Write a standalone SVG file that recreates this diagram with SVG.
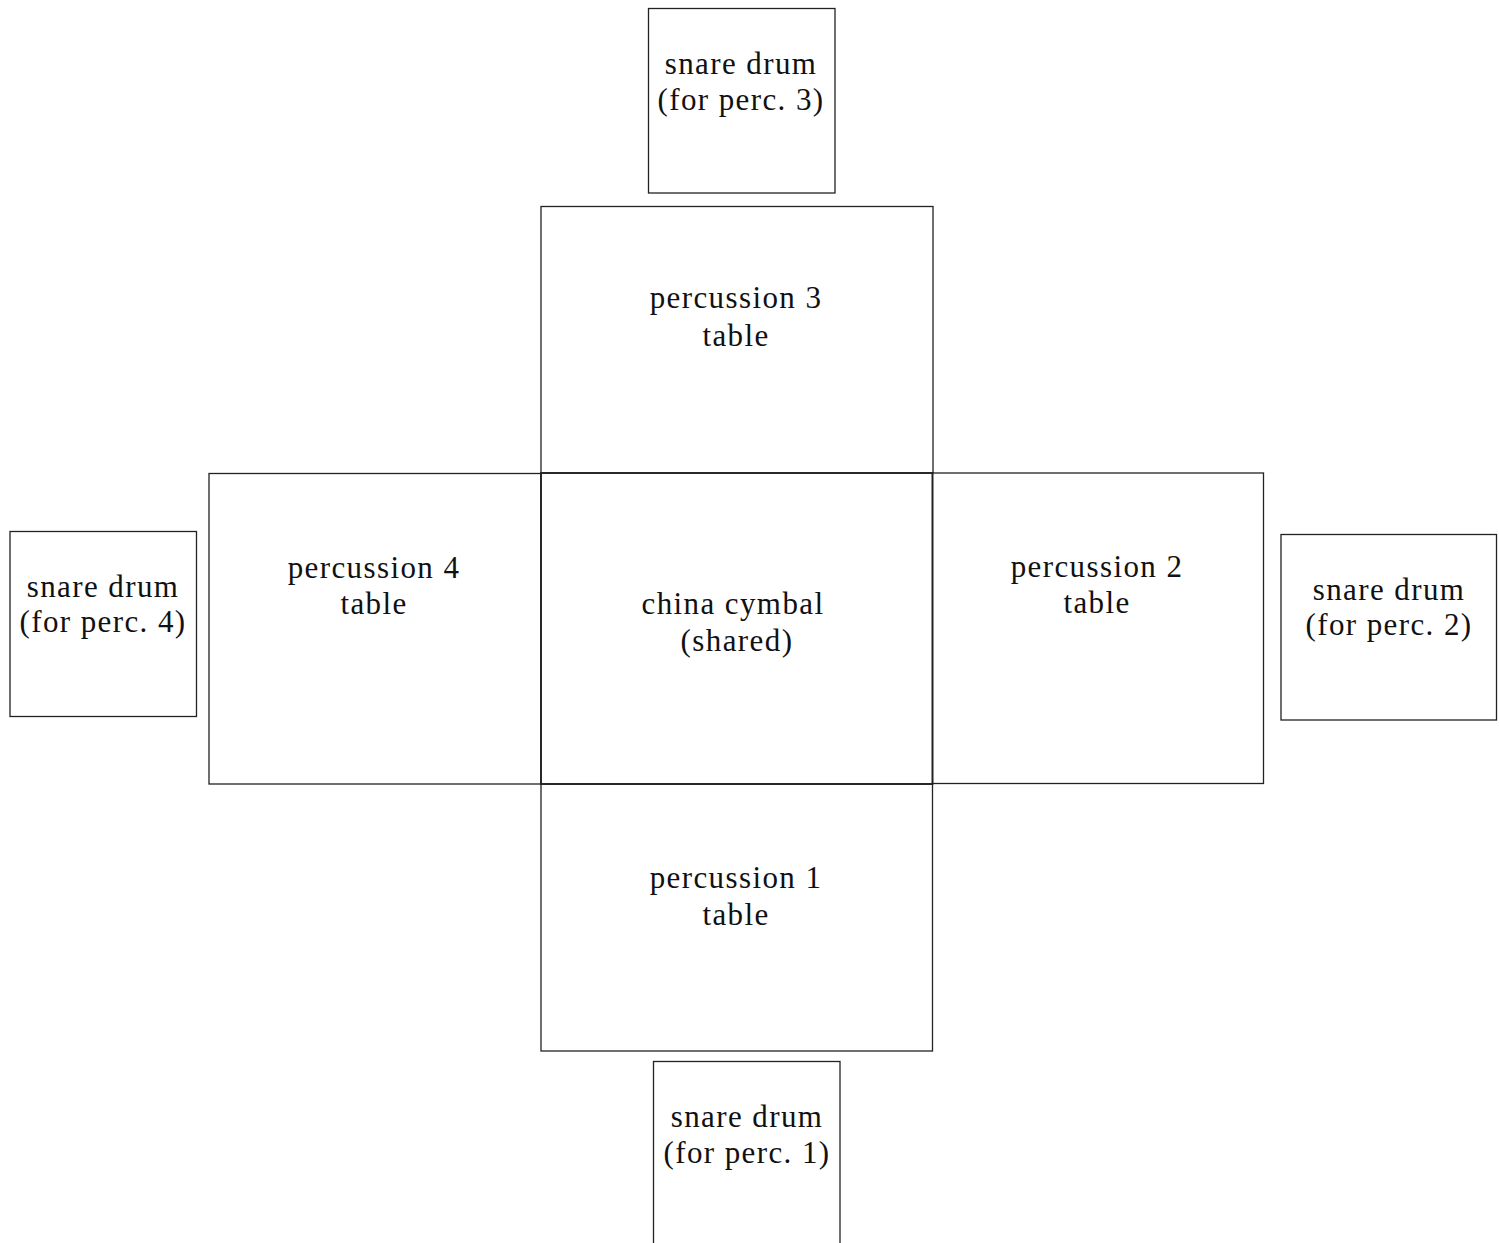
<svg xmlns="http://www.w3.org/2000/svg" width="1499" height="1243" viewBox="0 0 1499 1243">
<style>
rect{fill:none;stroke:#222;stroke-width:1.3}
text{font-family:"Liberation Serif","Times New Roman",serif;font-size:31px;fill:#111;text-anchor:middle;letter-spacing:1.4px}
</style>
<rect x="0" y="0" width="1499" height="1243" fill="#fff" style="fill:#fff;stroke:none"/>
<g id="snare3"><rect x="648.5" y="8.5" width="186.5" height="184.5"/><text x="741" y="74">snare drum</text><text x="741" y="110">(for perc. 3)</text></g>
<g id="perc3"><rect x="541" y="206.5" width="392" height="266.5"/><text x="736" y="308">percussion 3</text><text x="736" y="346">table</text></g>
<g id="perc4"><rect x="209" y="473.5" width="332" height="310.5"/><text x="374" y="578">percussion 4</text><text x="374" y="614">table</text></g>
<g id="cymbal"><rect x="541" y="473" width="391.5" height="311" style="stroke-width:1.8"/><text x="733" y="614">china cymbal</text><text x="737" y="651">(shared)</text></g>
<g id="perc2"><rect x="932.5" y="473" width="331" height="310.5"/><text x="1097" y="577">percussion 2</text><text x="1097" y="613">table</text></g>
<g id="snare4"><rect x="10" y="531.5" width="186.5" height="185"/><text x="103" y="597">snare drum</text><text x="103" y="632">(for perc. 4)</text></g>
<g id="snare2"><rect x="1281" y="534.5" width="215.5" height="185.5"/><text x="1389" y="600">snare drum</text><text x="1389" y="635">(for perc. 2)</text></g>
<g id="perc1"><rect x="541" y="784" width="391.5" height="267"/><text x="736" y="888">percussion 1</text><text x="736" y="925">table</text></g>
<g id="snare1"><rect x="653.5" y="1061.5" width="186.5" height="200"/><text x="747" y="1127">snare drum</text><text x="747" y="1163">(for perc. 1)</text></g>
<g id="connectors"></g>
</svg>
